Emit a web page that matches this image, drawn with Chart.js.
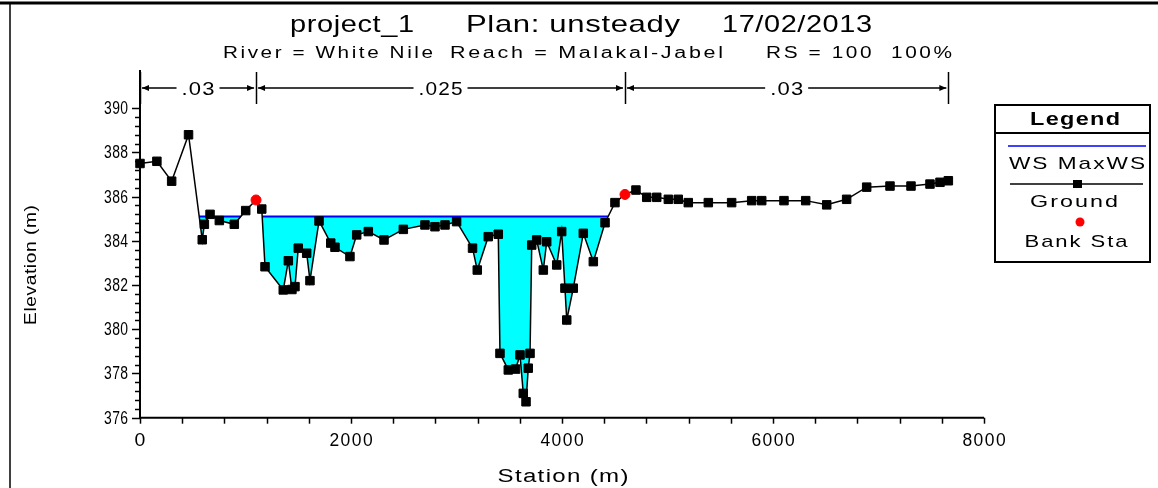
<!DOCTYPE html>
<html>
<head>
<meta charset="utf-8">
<script src="https://cdn.jsdelivr.net/npm/chart.js@4"></script>
<style>
  body { margin: 0; background: #fff; }
  canvas { display: block; }
</style>
</head>
<body>
<canvas id="xs" width="1158" height="488"></canvas>
<script>
// ground profile (station m, elevation m)
const groundSta = [0, 160, 300, 460, 590, 610, 664, 752, 894, 1002, 1100, 1154, 1185, 1358, 1406, 1440, 1469, 1500, 1580, 1611,
  1697, 1808, 1848, 1990, 2054, 2164, 2313, 2496, 2701, 2796, 2891, 3001, 3152, 3197, 3301, 3396, 3412, 3491, 3560, 3602,
  3633, 3659, 3680, 3697, 3713, 3760, 3823, 3855, 3950, 3997, 4028, 4045, 4107, 4202, 4297, 4408, 4502, 4597, 4701, 4803,
  4898, 5008, 5102, 5197, 5387, 5608, 5798, 5893, 6104, 6310, 6509, 6698, 6888, 7109, 7308, 7488, 7583, 7662];
const groundElev = [387.5, 387.6, 386.7, 388.8, 384.05, 384.75, 385.2, 384.92, 384.75, 385.37, 385.85, 385.44, 382.83, 381.78, 383.1, 381.8, 381.93, 383.67, 383.44, 382.2,
  384.9, 383.9, 383.71, 383.29, 384.27, 384.42, 384.04, 384.52, 384.72, 384.64, 384.72, 384.87, 383.67, 382.68, 384.19, 384.3, 378.91, 378.16, 378.2, 378.84,
  377.1, 376.72, 378.24, 378.91, 383.81, 384.04, 382.68, 383.96, 382.91, 384.42, 381.86, 380.42, 381.86, 384.34, 383.06, 384.82, 385.73, 386.1, 386.3, 385.97,
  385.97, 385.88, 385.88, 385.73, 385.73, 385.73, 385.82, 385.82, 385.82, 385.82, 385.63, 385.88, 386.43, 386.48, 386.48, 386.57, 386.65, 386.72];

// bank stations
const bankSta = [1100, 4597];
const bankElev = [385.85, 386.1];

// water surface (max WS) and wet extents
const wsElev = 385.1;
const wsStart = [561, 1158];
const wsEnd = [955, 4437];

// manning n values between breaks
const nValues = ['.03', '.025', '.03'];
const nBreaks = [groundSta[0], bankSta[0], bankSta[1], groundSta[groundSta.length - 1]];

const yTicks = [376, 378, 380, 382, 384, 386, 388, 390];
const xTicks = [0, 2000, 4000, 6000, 8000];

const FONT = '"Liberation Sans", Arial, sans-serif';

const groundPts = groundSta.map((s, i) => ({ x: s, y: groundElev[i] }));
const bankPts = bankSta.map((s, i) => ({ x: s, y: bankElev[i] }));

const wsSets = wsStart.map((s, i) => ({
  label: 'WS MaxWS',
  data: [{ x: s, y: wsElev }, { x: wsEnd[i], y: wsElev }],
  borderColor: 'rgb(0,0,255)',
  borderWidth: 2,
  pointRadius: 0,
  showLine: true,
  clip: false,
  fill: { target: 1, above: 'rgb(0,255,255)', below: 'rgba(0,0,0,0)' }
}));

// text widened to a given width: a bit of letter spacing, rest by horizontal stretch
function spaced(ctx, text, x, y, width, align, ls = 1) {
  ctx.letterSpacing = ls + 'px';
  const w = ctx.measureText(text).width - ls;
  const sx = width / w;
  let x0 = x;
  if (align === 'center') x0 = x - width / 2;
  if (align === 'right') x0 = x - width;
  ctx.save();
  ctx.textAlign = 'left';
  ctx.translate(x0, y);
  ctx.scale(sx, 1);
  ctx.fillText(text, 0, 0);
  ctx.restore();
  ctx.letterSpacing = '0px';
}

const extras = {
  id: 'extras',
  beforeDatasetsDraw(chart) {
    const { ctx, chartArea: a, scales: { x, y } } = chart;
    ctx.save();
    ctx.strokeStyle = '#000';
    ctx.lineWidth = 2;
    ctx.beginPath();
    ctx.moveTo(a.left, a.top);
    ctx.lineTo(a.left, a.bottom);
    ctx.lineTo(a.right, a.bottom);
    ctx.stroke();
    ctx.lineWidth = 1.5;
    // y ticks, minor every 0.4
    for (let v = 376; v <= 390.001; v += 0.4) {
      const py = Math.round(y.getPixelForValue(v)) + 0.5;
      const major = Math.abs(v - Math.round(v)) < 0.01 && Math.round(v) % 2 === 0;
      ctx.beginPath();
      ctx.moveTo(a.left, py);
      ctx.lineTo(a.left - (major ? 8 : 5), py);
      ctx.stroke();
    }
    // x ticks every 400
    for (let s = 0; s <= 8000; s += 400) {
      const px = Math.round(x.getPixelForValue(s)) + 0.5;
      ctx.beginPath();
      ctx.moveTo(px, a.bottom);
      ctx.lineTo(px, a.bottom + 6);
      ctx.stroke();
    }
    // tick labels
    ctx.fillStyle = '#000';
    ctx.font = '18px ' + FONT;
    ctx.textBaseline = 'middle';
    yTicks.forEach(v => {
      spaced(ctx, String(v), a.left - 12, y.getPixelForValue(v) + 1, 24, 'right', 0.5);
    });
    xTicks.forEach(v => {
      const t = String(v);
      spaced(ctx, t, x.getPixelForValue(v), a.bottom + 23, t.length * 10.8, 'center', 1.5);
    });
    ctx.restore();
  },
  afterDraw(chart) {
    const { ctx, scales: { x } } = chart;
    ctx.save();
    ctx.fillStyle = '#000';
    ctx.strokeStyle = '#000';

    // frame
    ctx.lineWidth = 3;
    ctx.beginPath();
    ctx.moveTo(0, 3); ctx.lineTo(1158, 3);
    ctx.stroke();
    ctx.lineWidth = 1.5;
    ctx.beginPath();
    ctx.moveTo(10, 3); ctx.lineTo(10, 488);
    ctx.stroke();

    // titles
    ctx.textBaseline = 'alphabetic';
    ctx.font = '24px ' + FONT;
    spaced(ctx, 'project_1', 290, 32, 124, 'left', 0.5);
    spaced(ctx, 'Plan: unsteady', 466, 32, 214, 'left', 0.5);
    spaced(ctx, '17/02/2013', 722, 32, 150, 'left', 0.5);
    ctx.font = '16px ' + FONT;
    spaced(ctx, 'River = White Nile', 223, 58, 210, 'left', 2);
    spaced(ctx, 'Reach = Malakal-Jabel', 450, 58, 273, 'left', 2);
    spaced(ctx, 'RS = 100  100%', 766, 58, 186, 'left', 2);

    // axis titles
    ctx.font = '18px ' + FONT;
    spaced(ctx, 'Station (m)', 563, 482, 131, 'center', 1);
    ctx.save();
    ctx.translate(36, 265);
    ctx.rotate(-Math.PI / 2);
    ctx.font = '17px ' + FONT;
    spaced(ctx, 'Elevation (m)', 0, 0, 120, 'center', 0.5);
    ctx.restore();

    // n values band
    const ny = 88;
    ctx.lineWidth = 1.5;
    ctx.font = '18px ' + FONT;
    ctx.textBaseline = 'middle';
    for (let i = 0; i < nValues.length; i++) {
      const x1 = x.getPixelForValue(nBreaks[i]);
      const x2 = x.getPixelForValue(nBreaks[i + 1]);
      const mid = (x1 + x2) / 2;
      const tw = nValues[i].length * 11;
      ctx.beginPath();
      ctx.moveTo(x1 + 2, ny); ctx.lineTo(mid - tw / 2 - 5, ny);
      ctx.moveTo(mid + tw / 2 + 5, ny); ctx.lineTo(x2 - 2, ny);
      ctx.stroke();
      ctx.beginPath();
      ctx.moveTo(x1 + 2, ny); ctx.lineTo(x1 + 9, ny - 3); ctx.lineTo(x1 + 9, ny + 3); ctx.closePath();
      ctx.moveTo(x2 - 2, ny); ctx.lineTo(x2 - 9, ny - 3); ctx.lineTo(x2 - 9, ny + 3); ctx.closePath();
      ctx.fill();
      spaced(ctx, nValues[i], mid, ny + 2, tw, 'center', 1);
    }
    nBreaks.forEach(s => {
      const px = Math.round(x.getPixelForValue(s)) + 0.5;
      ctx.beginPath();
      ctx.moveTo(px, 72); ctx.lineTo(px, 104);
      ctx.stroke();
    });

    // legend box
    ctx.lineWidth = 2;
    ctx.strokeRect(995, 105, 155, 157);
    ctx.beginPath();
    ctx.moveTo(995, 133); ctx.lineTo(1150, 133);
    ctx.stroke();
    ctx.font = 'bold 18px ' + FONT;
    spaced(ctx, 'Legend', 1075, 120, 90, 'center', 1);
    ctx.font = '17px ' + FONT;
    ctx.strokeStyle = 'rgb(0,0,255)';
    ctx.lineWidth = 1.5;
    ctx.beginPath(); ctx.moveTo(1008, 146); ctx.lineTo(1146, 146); ctx.stroke();
    spaced(ctx, 'WS MaxWS', 1077, 164, 136, 'center', 1.5);
    ctx.strokeStyle = '#000';
    ctx.beginPath(); ctx.moveTo(1010, 184); ctx.lineTo(1143, 184); ctx.stroke();
    ctx.fillRect(1073, 180, 9, 8);
    spaced(ctx, 'Ground', 1074, 202, 88, 'center', 1.5);
    ctx.fillStyle = 'rgb(255,0,0)';
    ctx.beginPath(); ctx.arc(1080, 222, 4.5, 0, Math.PI * 2); ctx.fill();
    ctx.fillStyle = '#000';
    spaced(ctx, 'Bank Sta', 1076, 242, 103, 'center', 1.5);
    ctx.restore();
  }
};

new Chart(document.getElementById('xs').getContext('2d'), {
  type: 'scatter',
  data: {
    datasets: [{
      label: 'Bank Sta',
      data: bankPts,
      pointStyle: 'circle',
      pointRadius: 5,
      backgroundColor: 'rgb(255,0,0)',
      borderColor: 'rgb(255,0,0)',
      clip: false
    }, {
      label: 'Ground',
      data: groundPts,
      showLine: true,
      borderColor: '#000',
      borderWidth: 1.5,
      pointStyle: 'rect',
      pointRadius: ctx => (ctx.raw && bankSta.includes(ctx.raw.x)) ? 0 : 6,
      pointBackgroundColor: '#000',
      pointBorderColor: '#000',
      pointBorderWidth: 1,
      clip: false,
      fill: false
    }, ...wsSets]
  },
  options: {
    responsive: false,
    animation: false,
    events: [],
    layout: { padding: { top: 70, right: 174, left: 0, bottom: 0 } },
    scales: {
      x: {
        type: 'linear',
        min: 0,
        max: 8000,
        afterFit: s => { s.height = 70.3; },
        grid: { display: false, drawTicks: false },
        border: { display: false },
        ticks: { display: false }
      },
      y: {
        type: 'linear',
        min: 376,
        max: 391.73,
        afterFit: s => { s.width = 140; },
        grid: { display: false, drawTicks: false },
        border: { display: false },
        ticks: { display: false }
      }
    },
    plugins: {
      legend: { display: false },
      tooltip: { enabled: false },
      title: { display: false }
    }
  },
  plugins: [extras]
});
</script>
</body>
</html>
